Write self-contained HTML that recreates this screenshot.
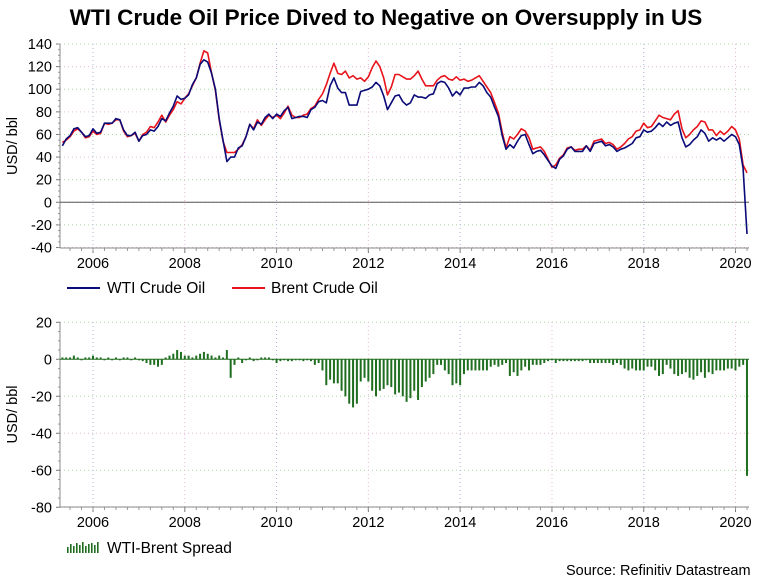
<!DOCTYPE html>
<html><head><meta charset="utf-8"><style>
body{margin:0;background:#fff;}
svg{display:block;font-family:"Liberation Sans",Arial,sans-serif;}
</style></head><body>
<svg id="c" width="770" height="577">
<text x="386" y="25" text-anchor="middle" font-size="22.5" font-weight="bold">WTI Crude Oil Price Dived to Negative on Oversupply in US</text>
<text x="566" y="575" font-size="14.5">Source: Refinitiv Datastream</text>
</svg>
<script>
const startYear=2005+4/12;
const wti=[50,56,59,65,66,62,58,59,
65,61,62,70,70,70,74,73,64,59,59,62,
54,59,60,64,63,67,74,72,79,85,94,91,
92,95,104,110,122,126,124,114,100,74,55,36,
40,40,48,50,58,69,64,71,69,75,78,74,
78,76,81,84,74,75,76,76,75,82,84,89,
90,88,103,110,101,97,97,86,86,86,98,99,
100,102,106,103,94,82,88,94,95,89,86,88,
95,93,93,92,95,96,105,107,106,101,94,98,
95,101,101,102,102,106,103,97,93,84,76,59,
47,51,48,54,59,60,51,43,45,46,42,37,
32,30,38,41,47,49,45,45,45,50,45,52,
53,54,50,51,49,45,47,48,50,52,57,58,
64,62,63,66,70,67,71,68,70,71,57,49,
51,55,58,64,61,54,57,55,57,54,57,60,
58,51,30,-28];
const brent=[53,55,58,63,65,62,57,58,
63,60,61,70,69,70,73,73,63,58,59,61,
54,60,62,67,66,71,77,71,77,82,89,87,
92,96,103,110,123,134,132,114,99,73,54,44,
44,44,47,51,58,69,65,73,68,73,77,75,
77,74,79,85,77,75,75,77,78,83,85,91,
96,104,114,123,114,113,116,110,112,109,110,107,
111,119,125,120,110,95,102,113,113,111,109,109,
112,116,109,103,103,103,108,111,112,109,108,111,
108,109,107,108,110,112,107,102,97,88,79,62,
48,58,56,60,65,63,57,47,48,49,45,38,
31,33,39,42,48,49,46,47,47,50,46,54,
55,56,52,53,51,47,49,52,56,58,63,64,
70,66,67,72,77,75,74,73,78,81,65,57,
60,64,67,72,71,64,64,59,63,60,63,67,
64,56,33,26];
const spread=[1,1,1,2,1,0,1,1,
2,1,1,0,1,0,1,0,1,1,0,1,
0,-1,-2,-3,-3,-4,-3,1,2,3,5,4,
2,2,1,2,3,4,3,2,1,2,1,5,
-10,-3,1,-2,0,1,-1,0,1,1,1,0,
-2,-1,0,-1,-1,0,0,-1,0,-1,-3,-2,
-6,-14,-11,-13,-13,-17,-20,-24,-26,-24,-12,-10,
-12,-17,-20,-17,-16,-14,-15,-19,-18,-20,-23,-21,
-17,-22,-15,-12,-10,-8,-3,-3,-6,-8,-14,-13,
-14,-8,-6,-6,-6,-6,-6,-6,-4,-3,-4,-3,
-2,-9,-7,-9,-6,-4,-6,-3,-3,-3,-2,-1,
0,-2,-1,-1,-1,-1,-1,-1,-1,0,-2,-2,
-2,-2,-2,-2,-3,-2,-3,-5,-6,-5,-6,-6,
-6,-4,-4,-6,-9,-8,-3,-5,-8,-9,-8,-7,
-10,-11,-9,-7,-10,-7,-8,-6,-6,-6,-5,-5,
-6,-4,-3,-63];
const yearTicks=[2006,2008,2010,2012,2014,2016,2018,2020];
const topTicks=[140,120,100,80,60,40,20,0,-20,-40];
const botTicks=[20,0,-20,-40,-60,-80];

const svg=document.getElementById('c');
const NS='http://www.w3.org/2000/svg';
function mk(tag,attrs,parent){const e=document.createElementNS(NS,tag);for(const k in attrs)e.setAttribute(k,attrs[k]);(parent||svg).appendChild(e);return e;}
const L=60,R=749;
function X(t){return 93+(t-2006)*(735.5-93)/14;}
function Yt(v){return 202.3-v*(202.3-44)/140;}
function Yb(v){return 359.3-v*(359.3-322.3)/20;}
function tOf(i){return startYear+i/12;}

function panel(Y,ticks,top,bot,name){
  const g=mk('g',{});
  
  
  ticks.forEach((v,i)=>{
    const y=Y(v);
    const gl=mk('line',{x1:L,x2:R,y1:y,y2:y,stroke:i%2?'#e8b8d8':'#a8d8a0','stroke-dasharray':'1,3'},g);
    
    
    const tl=mk('text',{x:L-8,y:y+5,'text-anchor':'end','font-size':14.5},g);
    tl.textContent=v;
    
    
    mk('line',{x1:L-4,x2:L,y1:y,y2:y,stroke:'#777'},g);
  });
  for(let v=ticks[0];v>=ticks[ticks.length-1];v-=5){mk('line',{x1:L-2,x2:L,y1:Y(v),y2:Y(v),stroke:'#999'},g);}
  yearTicks.forEach((yr,i)=>{
    const x=X(yr);
    const vl=mk('line',{x1:x,x2:x,y1:top,y2:bot,stroke:i%2?'#e8b8d8':'#a8b8d8','stroke-dasharray':'1,3'},g);
    
    
    const xl=mk('text',{x:x,y:bot+20,'text-anchor':'middle','font-size':14.5},g);
    xl.textContent=yr;
    
    
    mk('line',{x1:x,x2:x,y1:bot,y2:bot+5,stroke:'#777'},g);
  });
  for(let t=2005.5;t<2020.4;t+=0.25){const x=X(t);if(x>=L)mk('line',{x1:x,x2:x,y1:bot,y2:bot+3,stroke:'#999'},g);}
  mk('line',{x1:L,x2:L,y1:top,y2:bot,stroke:'#888'},g);
  mk('line',{x1:L,x2:R,y1:bot,y2:bot,stroke:'#888'},g);
  const yl=mk('text',{x:0,y:0,transform:`translate(17,${(top+bot)/2}) rotate(-90)`,'text-anchor':'middle','font-size':14.5},g);
  yl.textContent='USD/ bbl';
  
  
}
panel(Yt,topTicks,44,248,'price-panel');
panel(Yb,botTicks,322,507,'spread-panel');
const z=mk('line',{x1:L,x2:R,y1:Yt(0),y2:Yt(0),stroke:'#555','stroke-width':1});



function series(arr,color,name){
  const d=arr.map((v,i)=>(i?'L':'M')+X(tOf(i)).toFixed(1)+','+Yt(v).toFixed(1)).join('');
  const p=mk('path',{d:d,fill:'none',stroke:color,'stroke-width':1.6,'stroke-linejoin':'round'});
  
  
}
series(brent,'#e8141c','brent-line');
series(wti,'#0a0a78','wti-line');

spread.forEach((v,i)=>{
  const x=X(tOf(i));const y0=Yb(0),y1=Yb(v);
  const b=mk('rect',{x:x-1,y:Math.min(y0,y1),width:2,height:Math.max(1,Math.abs(y1-y0)),fill:'#1f6e1f'});
  
  
});
mk('line',{x1:L,x2:R,y1:Yb(0),y2:Yb(0),stroke:'#1f6e1f','stroke-width':1});

const lg1=mk('g',{});


mk('line',{x1:67,x2:100,y1:288,y2:288,stroke:'#0a0a78','stroke-width':2},lg1);
let t=mk('text',{x:107,y:293,'font-size':15.5},lg1);t.textContent='WTI Crude Oil';


mk('line',{x1:232,x2:265,y1:288,y2:288,stroke:'#e8141c','stroke-width':2},lg1);
t=mk('text',{x:271,y:293,'font-size':15.5},lg1);t.textContent='Brent Crude Oil';


const lg2=mk('g',{});


for(let i=0;i<11;i++){const h=[6,9,7,10,8,11,7,9,10,8,11][i];mk('rect',{x:67+i*3,y:553-h,width:1.6,height:h,fill:'#1f6e1f'},lg2);}
t=mk('text',{x:107,y:553,'font-size':15.5},lg2);t.textContent='WTI-Brent Spread';


</script>
</body></html>
